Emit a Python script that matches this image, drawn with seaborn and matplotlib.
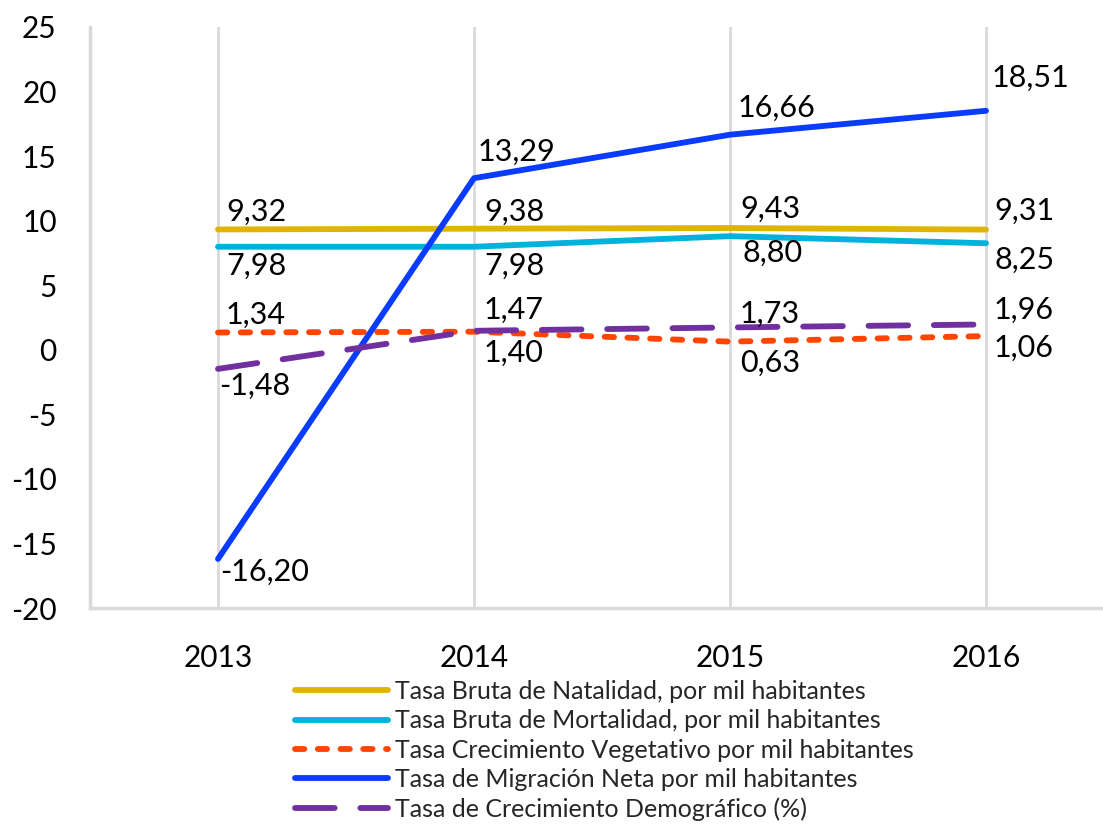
import matplotlib
matplotlib.use("Agg")
import matplotlib.pyplot as plt
import seaborn as sns
import pandas as pd
from matplotlib.lines import Line2D

years = ["2013", "2014", "2015", "2016"]
natalidad = [9.32, 9.38, 9.43, 9.31]
mortalidad = [7.98, 7.98, 8.80, 8.25]
vegetativo = [1.34, 1.40, 0.63, 1.06]
migracion = [-16.20, 13.29, 16.66, 18.51]
demografico = [-1.48, 1.47, 1.73, 1.96]

series_names = [
    "Tasa Bruta de Natalidad, por mil habitantes",
    "Tasa Bruta de Mortalidad, por mil habitantes",
    "Tasa Crecimiento Vegetativo por mil habitantes",
    "Tasa de Migración Neta por mil habitantes",
    "Tasa de Crecimiento Demográfico (%)",
]
series_values = [natalidad, mortalidad, vegetativo, migracion, demografico]
colors = ["#E0B400", "#00B2DC", "#FF4500", "#0A3CFF", "#7030A0"]
dash_styles = [None, None, (1.6, 2.3), None, (6.8, 4.4)]
# label offsets in pixels (dx, dy), dy positive = up
label_offsets = [
    [(8, 18), (10, 17), (10, 19), (8, 19)],
    [(8, -19), (10, -19), (12, -17), (8, -17)],
    [(8, 18), (10, -21), (10, -21), (8, -12)],
    [(2, -13), (4, 26), (8, 27), (6, 33)],
    [(1, -17), (10, 21), (10, 14), (8, 15)],
]

rows = []
for name, vals in zip(series_names, series_values):
    for y, v in zip(years, vals):
        rows.append({"Año": y, "Valor": v, "Serie": name})
df = pd.DataFrame(rows)

sns.set_theme(style="white")
plt.rcParams["font.family"] = ["Lato", "DejaVu Sans"]
plt.rcParams["axes.unicode_minus"] = False

fig = plt.figure(figsize=(11.03, 8.24), dpi=100)
ax = fig.add_axes([90 / 1103, 1 - 608 / 824, 1024 / 1103, (608 - 27) / 824])

lw = 4.2
for name, col, ds in zip(series_names, colors, dash_styles):
    sub = df[df["Serie"] == name]
    sns.lineplot(data=sub, x="Año", y="Valor", ax=ax, color=col, lw=lw,
                 sort=False, legend=False, zorder=3)
    line = ax.lines[-1]
    line.set_solid_capstyle("round")
    line.set_dash_capstyle("round")
    if ds is not None:
        line.set_dashes(ds)

for vals, offs in zip(series_values, label_offsets):
    for i, (v, (dx, dy)) in enumerate(zip(vals, offs)):
        ax.annotate(f"{v:.2f}".replace(".", ","), xy=(i, v), xytext=(dx, dy),
                    textcoords="offset pixels", ha="left", va="center",
                    fontsize=22, color="black", zorder=5)

ax.set_xlim(-0.5, 3.5)
ax.set_ylim(-20, 25)
ax.set_yticks(range(-20, 26, 5))
ax.set_xlabel("")
ax.set_ylabel("")
ax.tick_params(axis="both", length=0, labelsize=21.5, colors="black")
ax.tick_params(axis="y", pad=24)
ax.tick_params(axis="x", pad=26)
ax.grid(axis="x", color="#d9d9d9", lw=2, zorder=0)
ax.grid(axis="y", visible=False)
for s in ["top", "right"]:
    ax.spines[s].set_visible(False)
for s in ["left", "bottom"]:
    ax.spines[s].set_color("#d9d9d9")
    ax.spines[s].set_linewidth(2.5)

handles = []
for name, col, ds in zip(series_names, colors, dash_styles):
    h = Line2D([], [], color=col, lw=lw, solid_capstyle="round", dash_capstyle="round")
    if ds is not None:
        h.set_dashes(ds)
    handles.append(h)
fig.legend(handles, series_names, loc="upper left",
           bbox_to_anchor=(295 / 1103, 1 - 680 / 824), frameon=False,
           fontsize=18, handlelength=3.7, handletextpad=0.3,
           labelspacing=0.25, borderpad=0, borderaxespad=0)

fig.savefig("out.png", dpi=100)
